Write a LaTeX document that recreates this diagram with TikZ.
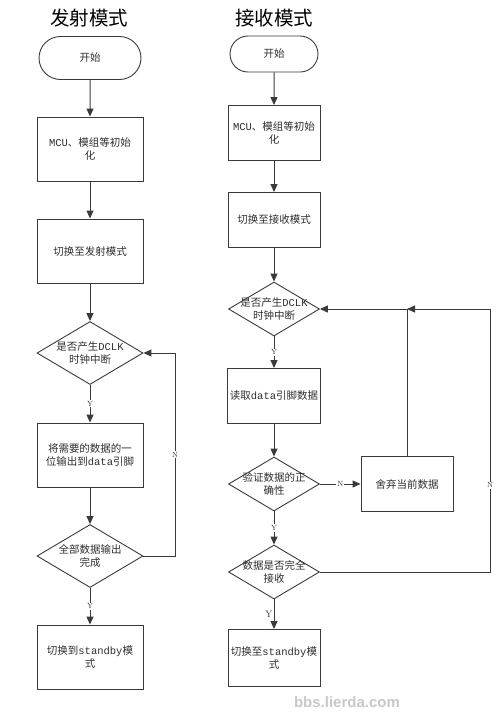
\documentclass[tikz,border=0pt]{standalone}
\usepackage{fontspec}
\usepackage{tikz}
\usetikzlibrary{arrows.meta}
\usetikzlibrary{shapes.misc}
\usetikzlibrary{shapes.geometric}
\newfontfamily\cjk{Noto Sans CJK SC}
\newfontfamily\latmono{Liberation Mono}
\newfontfamily\wmfont{Liberation Sans}
\newcommand{\lat}[1]{{\latmono #1}}
\definecolor{linegray}{HTML}{3A3A3A}
\definecolor{textgray}{HTML}{2E2E2E}
\definecolor{markgray}{HTML}{C8C8CC}
\tikzset{
  base/.style={draw=linegray, line width=0.9pt, text=textgray, align=center, inner sep=2pt,
    font=\cjk\fontsize{10.5}{13}\selectfont},
  term/.style={base, rounded rectangle, minimum width=106pt, minimum height=43pt},
  rterm/.style={term, minimum width=92pt, minimum height=36pt},
  proc/.style={base, rectangle, minimum width=106pt, minimum height=64pt},
  rproc/.style={proc, minimum width=92pt, minimum height=55pt},
  dec/.style={base, diamond, shape aspect=1.7, inner xsep=-12pt, inner ysep=-4pt,
    minimum width=106pt, minimum height=63pt},
  rdec/.style={dec, minimum width=91pt, minimum height=54pt},
  arr/.style={draw=linegray, line width=1pt, -{Triangle[length=8pt,width=7pt]}},
  lab/.style={fill=white, inner sep=1pt, text=textgray, font=\fontsize{7.5}{8}\selectfont},
  ttl/.style={text=black, font=\cjk\fontsize{19.5}{22}\selectfont},
}
\begin{document}
\begin{tikzpicture}[x=1pt,y=-1pt]
\useasboundingbox (0,0) rectangle (500,713);
% titles
\node[ttl] (ltitle) at (89,18) {发射模式};
\node[ttl] (rtitle) at (274,18) {接收模式};
% send mode
\node[term] (lstart) at (90,58) {开始};
\node[proc] (linit) at (90,149) {\lat{MCU}、模组等初始\\化};
\node[proc] (lmode) at (90,251) {切换至发射模式};
\node[dec] (lclk) at (90,353) {是否产生\lat{DCLK}\\时钟中断};
\node[proc] (lsend) at (90,455) {将需要的数据的一\\位输出到\lat{data}引脚};
\node[dec] (ldone) at (90,556) {全部数据输出\\完成};
\node[proc] (lstby) at (90,657) {切换到\lat{standby}模\\式};
\coordinate (lloop) at (175,556);
\draw[arr] (lstart) -- (linit);
\draw[arr] (linit) -- (lmode);
\draw[arr] (lmode) -- (lclk);
\draw[arr] (lclk) -- node[lab] {Y} (lsend);
\draw[arr] (lsend) -- (ldone);
\draw[arr] (ldone) -- node[lab] {Y} (lstby);
\draw[arr] (ldone.east) -- (lloop) |- node[lab, pos=0.25] {N} (lclk.east);
% receive mode
\node[rterm] (rstart) at (274,54) {开始};
\node[rproc] (rinit) at (274,133) {\lat{MCU}、模组等初始\\化};
\node[rproc] (rmode) at (274,220) {切换至接收模式};
\node[rdec] (rclk) at (274,309) {是否产生\lat{DCLK}\\时钟中断};
\node[rproc] (rread) at (274,396) {读取\lat{data}引脚数据};
\node[rdec] (rchk) at (274,484) {验证数据的正\\确性};
\node[rproc] (rdrop) at (407,484) {舍弃当前数据};
\node[rdec] (rall) at (274,572) {数据是否完全\\接收};
\node[rproc, minimum height=57pt] (rstby) at (274,658) {切换至\lat{standby}模\\式};
\coordinate (rjoin) at (rdrop.north |- rclk.east);
\coordinate (rloop) at (490,572);
\draw[arr] (rstart) -- (rinit);
\draw[arr] (rinit) -- (rmode);
\draw[arr] (rmode) -- (rclk);
\draw[arr] (rclk) -- node[lab] {Y} (rread);
\draw[arr] (rread) -- (rchk);
\draw[arr] (rchk) -- node[lab] {Y} (rall);
\draw[arr] (rchk) -- node[lab] {N} (rdrop);
\draw[arr] (rdrop.north) -- (rjoin) -- (rclk.east);
\draw[arr] (rall.east) -- (rloop) |- node[lab, pos=0.165] {N} (rjoin);
\draw[arr] (rall) -- node[lab, left, fill=none, font=\fontsize{9.5}{10}\selectfont] {Y} (rstby);
% watermark
\node[text=markgray, font=\wmfont\bfseries\fontsize{15}{16}\selectfont] (mark) at (347,702) {bbs.lierda.com};
\end{tikzpicture}
\end{document}
